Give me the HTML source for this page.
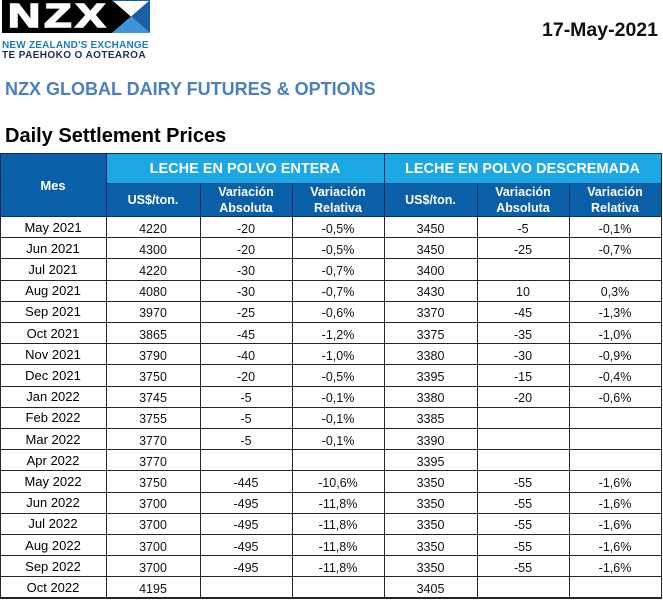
<!DOCTYPE html>
<html>
<head>
<meta charset="utf-8">
<style>
  html,body{margin:0;padding:0;}
  body{width:663px;height:600px;background:#fff;position:relative;overflow:hidden;font-family:"Liberation Sans",Arial,sans-serif;}
  .abs{position:absolute;}
  .hd{position:absolute;box-sizing:border-box;display:flex;align-items:center;justify-content:center;text-align:center;color:#fff;font-weight:bold;}
  .dk{background:#0a5fa9;}
  .lt{background:#1ca8e5;}
  .row{position:absolute;left:0;width:662px;height:21.2px;box-sizing:border-box;border-bottom:1px solid #262626;}
  .row span{position:absolute;top:0;height:100%;display:flex;align-items:center;justify-content:center;font-size:12.5px;color:#111;padding-top:3px;box-sizing:border-box;}
  .row span.c0{left:0;width:106px;font-size:13px;padding-top:0;color:#000;}
  .c1{left:106px;width:94px;}
  .c2{left:200px;width:92px;}
  .c3{left:292px;width:92px;}
  .c4{left:384px;width:93px;}
  .c5{left:477px;width:92px;}
  .c6{left:569px;width:92px;}
  .vl{position:absolute;width:1px;background:#262626;top:217px;height:382px;}
  .hvl{position:absolute;width:1px;background:#0b2f5c;}
</style>
</head>
<body>

<!-- Logo -->
<div class="abs" style="left:2px;top:0;width:110px;height:33px;background:#000;overflow:hidden;">
  <div style="position:absolute;left:6px;top:-3px;font-weight:bold;font-size:33px;color:#fff;-webkit-text-stroke:1.6px #fff;letter-spacing:3px;transform:scaleX(1.35);transform-origin:left top;line-height:38px;">NZX</div>
</div>
<svg class="abs" style="left:112px;top:0" width="38" height="33" viewBox="0 0 38 33">
  <polygon points="0,0 19,16.5 0,33" fill="#000"/>
  <polygon points="0,0 38,0 19,16.5" fill="#fff"/>
  <polygon points="38,0 38,33 19,16.5" fill="#1a5fa6"/>
  <polygon points="0,33 38,33 19,16.5" fill="#3c95d8"/>
  <polyline points="0,0.5 38,0.5" stroke="#1a5fa6" stroke-width="1" fill="none"/>
</svg>
<div class="abs" style="left:2px;top:40px;font-size:10px;font-weight:bold;color:#1d7cc2;letter-spacing:0.2px;white-space:nowrap;">NEW ZEALAND'S EXCHANGE</div>
<div class="abs" style="left:2px;top:50px;font-size:10px;font-weight:bold;color:#1b2d5e;letter-spacing:0.4px;white-space:nowrap;">TE PAEHOKO O AOTEAROA</div>

<!-- Date -->
<div class="abs" style="right:5px;top:19px;font-size:19.5px;font-weight:bold;color:#111;white-space:nowrap;">17-May-2021</div>

<!-- Titles -->
<div class="abs" style="left:5px;top:79px;font-size:18px;font-weight:bold;color:#4a7fc0;white-space:nowrap;">NZX GLOBAL DAIRY FUTURES &amp; OPTIONS</div>
<div class="abs" style="left:5px;top:125px;font-size:20px;font-weight:bold;color:#000;white-space:nowrap;">Daily Settlement Prices</div>

<!-- Header -->
<div class="abs" style="left:0;top:153px;width:662px;height:1px;background:#0b2f5c;"></div>
<div class="hd dk" style="left:0;top:154px;width:106px;height:63px;font-size:13px;">Mes</div>
<div class="hd lt" style="left:106px;top:154px;width:278px;height:29px;font-size:14.5px;">LECHE EN POLVO ENTERA</div>
<div class="hd lt" style="left:384px;top:154px;width:277px;height:29px;font-size:14.5px;">LECHE EN POLVO DESCREMADA</div>
<div class="hd dk" style="left:106px;top:183px;width:94px;height:34px;font-size:12.5px;">US$/ton.</div>
<div class="hd dk" style="left:200px;top:183px;width:92px;height:34px;font-size:12.5px;line-height:16px;">Variación<br>Absoluta</div>
<div class="hd dk" style="left:292px;top:183px;width:92px;height:34px;font-size:12.5px;line-height:16px;">Variación<br>Relativa</div>
<div class="hd dk" style="left:384px;top:183px;width:93px;height:34px;font-size:12.5px;">US$/ton.</div>
<div class="hd dk" style="left:477px;top:183px;width:92px;height:34px;font-size:12.5px;line-height:16px;">Variación<br>Absoluta</div>
<div class="hd dk" style="left:569px;top:183px;width:92px;height:34px;font-size:12.5px;line-height:16px;">Variación<br>Relativa</div>
<!-- header lines -->
<div class="abs" style="left:106px;top:183px;width:555px;height:1px;background:#0b4f8f;"></div>
<div class="hvl" style="left:106px;top:154px;height:63px;"></div>
<div class="hvl" style="left:384px;top:154px;height:63px;"></div>
<div class="hvl" style="left:200px;top:183px;height:34px;"></div>
<div class="hvl" style="left:292px;top:183px;height:34px;"></div>
<div class="hvl" style="left:477px;top:183px;height:34px;"></div>
<div class="hvl" style="left:569px;top:183px;height:34px;"></div>
<div class="abs" style="left:0;top:216px;width:662px;height:1px;background:#0b2f5c;"></div>

<!-- Data rows -->
<div class="row" style="top:217px"><span class="c0">May 2021</span><span class="c1">4220</span><span class="c2">-20</span><span class="c3">-0,5%</span><span class="c4">3450</span><span class="c5">-5</span><span class="c6">-0,1%</span></div>
<div class="row" style="top:238.2px"><span class="c0">Jun 2021</span><span class="c1">4300</span><span class="c2">-20</span><span class="c3">-0,5%</span><span class="c4">3450</span><span class="c5">-25</span><span class="c6">-0,7%</span></div>
<div class="row" style="top:259.4px"><span class="c0">Jul 2021</span><span class="c1">4220</span><span class="c2">-30</span><span class="c3">-0,7%</span><span class="c4">3400</span><span class="c5"></span><span class="c6"></span></div>
<div class="row" style="top:280.6px"><span class="c0">Aug 2021</span><span class="c1">4080</span><span class="c2">-30</span><span class="c3">-0,7%</span><span class="c4">3430</span><span class="c5">10</span><span class="c6">0,3%</span></div>
<div class="row" style="top:301.8px"><span class="c0">Sep 2021</span><span class="c1">3970</span><span class="c2">-25</span><span class="c3">-0,6%</span><span class="c4">3370</span><span class="c5">-45</span><span class="c6">-1,3%</span></div>
<div class="row" style="top:323px"><span class="c0">Oct 2021</span><span class="c1">3865</span><span class="c2">-45</span><span class="c3">-1,2%</span><span class="c4">3375</span><span class="c5">-35</span><span class="c6">-1,0%</span></div>
<div class="row" style="top:344.2px"><span class="c0">Nov 2021</span><span class="c1">3790</span><span class="c2">-40</span><span class="c3">-1,0%</span><span class="c4">3380</span><span class="c5">-30</span><span class="c6">-0,9%</span></div>
<div class="row" style="top:365.4px"><span class="c0">Dec 2021</span><span class="c1">3750</span><span class="c2">-20</span><span class="c3">-0,5%</span><span class="c4">3395</span><span class="c5">-15</span><span class="c6">-0,4%</span></div>
<div class="row" style="top:386.6px"><span class="c0">Jan 2022</span><span class="c1">3745</span><span class="c2">-5</span><span class="c3">-0,1%</span><span class="c4">3380</span><span class="c5">-20</span><span class="c6">-0,6%</span></div>
<div class="row" style="top:407.8px"><span class="c0">Feb 2022</span><span class="c1">3755</span><span class="c2">-5</span><span class="c3">-0,1%</span><span class="c4">3385</span><span class="c5"></span><span class="c6"></span></div>
<div class="row" style="top:429px"><span class="c0">Mar 2022</span><span class="c1">3770</span><span class="c2">-5</span><span class="c3">-0,1%</span><span class="c4">3390</span><span class="c5"></span><span class="c6"></span></div>
<div class="row" style="top:450.2px"><span class="c0">Apr 2022</span><span class="c1">3770</span><span class="c2"></span><span class="c3"></span><span class="c4">3395</span><span class="c5"></span><span class="c6"></span></div>
<div class="row" style="top:471.4px"><span class="c0">May 2022</span><span class="c1">3750</span><span class="c2">-445</span><span class="c3">-10,6%</span><span class="c4">3350</span><span class="c5">-55</span><span class="c6">-1,6%</span></div>
<div class="row" style="top:492.6px"><span class="c0">Jun 2022</span><span class="c1">3700</span><span class="c2">-495</span><span class="c3">-11,8%</span><span class="c4">3350</span><span class="c5">-55</span><span class="c6">-1,6%</span></div>
<div class="row" style="top:513.8px"><span class="c0">Jul 2022</span><span class="c1">3700</span><span class="c2">-495</span><span class="c3">-11,8%</span><span class="c4">3350</span><span class="c5">-55</span><span class="c6">-1,6%</span></div>
<div class="row" style="top:535px"><span class="c0">Aug 2022</span><span class="c1">3700</span><span class="c2">-495</span><span class="c3">-11,8%</span><span class="c4">3350</span><span class="c5">-55</span><span class="c6">-1,6%</span></div>
<div class="row" style="top:556.2px"><span class="c0">Sep 2022</span><span class="c1">3700</span><span class="c2">-495</span><span class="c3">-11,8%</span><span class="c4">3350</span><span class="c5">-55</span><span class="c6">-1,6%</span></div>
<div class="row" style="top:577.4px;border-bottom:2px solid #262626;height:21.6px"><span class="c0">Oct 2022</span><span class="c1">4195</span><span class="c2"></span><span class="c3"></span><span class="c4">3405</span><span class="c5"></span><span class="c6"></span></div>

<!-- Vertical grid lines -->
<div class="vl" style="left:0;width:1px;"></div>
<div class="vl" style="left:106px;"></div>
<div class="vl" style="left:200px;"></div>
<div class="vl" style="left:292px;"></div>
<div class="vl" style="left:384px;"></div>
<div class="vl" style="left:477px;"></div>
<div class="vl" style="left:569px;"></div>
<div class="vl" style="left:661px;top:154px;height:445px;"></div>
<div class="abs" style="left:0;top:154px;width:1px;height:63px;background:#0b2f5c;"></div>

</body>
</html>
